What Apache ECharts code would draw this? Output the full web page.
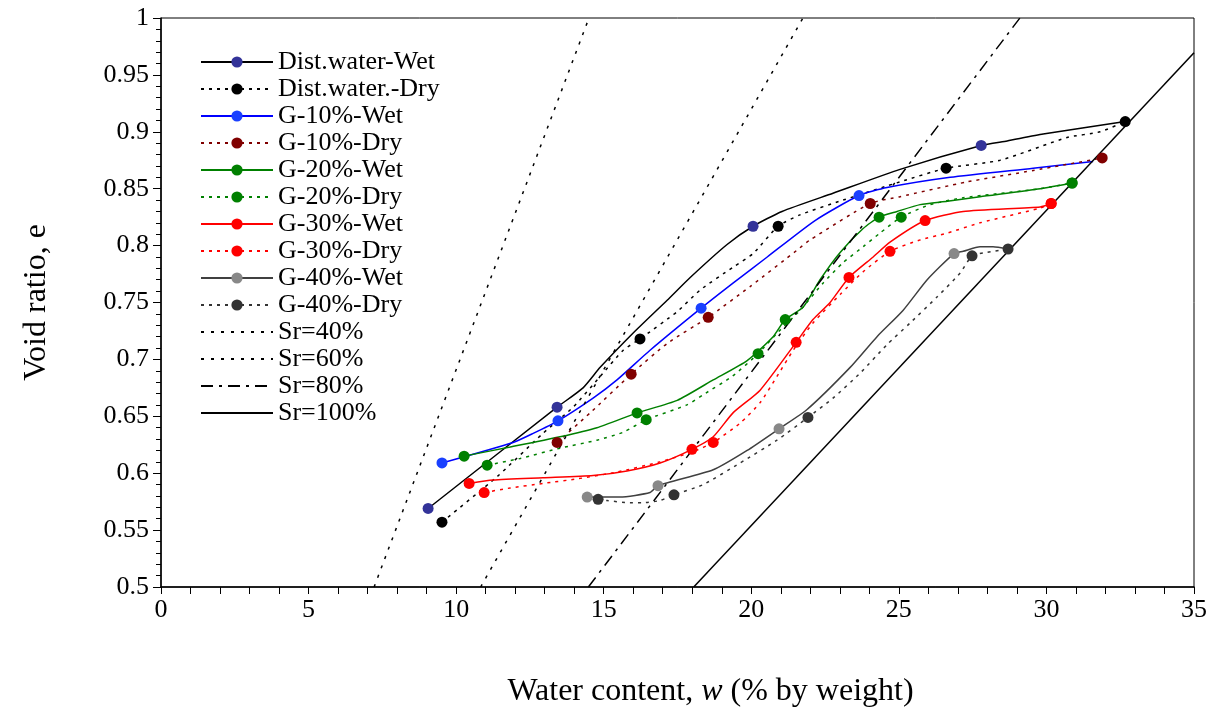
<!DOCTYPE html>
<html>
<head>
<meta charset="utf-8">
<script src="https://cdn.jsdelivr.net/npm/echarts@6/dist/echarts.min.js"></script>
<style>
html,body{margin:0;padding:0;background:#fff;}
#chart{width:1210px;height:721px;}
</style>
</head>
<body>
<div id="chart"></div>
<script>
// points are [w, e, marker?]
var distWet = [[9.05,0.569,1],[13.42,0.658,1],[14.30,0.675,0],[14.88,0.693,0],[15.99,0.723,0],[17.15,0.752,0],[17.93,0.772,0],[19.18,0.801,0],[20.06,0.817,1],[21.04,0.830,0],[22.77,0.846,0],[25.04,0.867,0],[27.79,0.888,1],[28.67,0.892,0],[29.89,0.898,0],[32.67,0.909,0]];
var distDry = [[9.52,0.557,1],[11.39,0.597,0],[12.94,0.635,0],[13.96,0.658,0],[14.88,0.685,0],[15.66,0.708,0],[16.23,0.718,1],[17.49,0.742,0],[18.27,0.761,0],[19.38,0.781,0],[20.06,0.793,0],[20.91,0.817,1],[21.65,0.827,0],[23.11,0.840,0],[25.04,0.856,0],[26.60,0.868,1],[28.43,0.875,0],[30.70,0.895,0],[31.82,0.900,0],[32.67,0.909,1]];
var g10Wet = [[9.52,0.609,1],[11.93,0.627,0],[12.61,0.635,0],[13.45,0.646,1],[14.64,0.666,0],[15.45,0.682,0],[16.57,0.708,0],[18.30,0.745,1],[19.38,0.767,0],[20.54,0.790,0],[22.16,0.822,0],[23.65,0.844,1],[24.60,0.851,0],[26.74,0.860,0],[29.55,0.868,0],[31.58,0.874,0]];
var g10Dry = [[13.42,0.627,1],[14.54,0.653,0],[15.93,0.687,1],[17.15,0.714,0],[18.54,0.737,1],[19.96,0.764,0],[21.55,0.796,0],[21.99,0.805,0],[24.03,0.837,1],[25.04,0.843,0],[27.31,0.856,0],[29.55,0.866,0],[31.89,0.877,1]];
var g20Wet = [[10.27,0.615,1],[11.83,0.623,0],[13.52,0.632,0],[14.77,0.640,0],[16.13,0.653,1],[17.49,0.664,0],[18.71,0.682,0],[19.86,0.699,0],[20.74,0.720,0],[21.15,0.735,1],[21.76,0.746,0],[22.33,0.770,0],[23.01,0.794,0],[23.79,0.815,0],[24.33,0.825,1],[24.94,0.830,0],[25.72,0.836,0],[26.64,0.839,0],[27.75,0.843,0],[29.79,0.850,0],[30.87,0.855,1]];
var g20Dry = [[11.05,0.607,1],[12.17,0.613,0],[13.52,0.622,0],[14.77,0.629,0],[15.66,0.636,0],[16.44,0.647,1],[17.82,0.660,0],[18.37,0.669,0],[19.35,0.685,0],[20.23,0.705,1],[20.87,0.723,0],[21.65,0.743,0],[22.43,0.767,0],[23.11,0.785,0],[23.79,0.799,0],[24.36,0.811,0],[25.08,0.825,1],[26.06,0.836,0],[27.18,0.842,0],[29.79,0.850,0],[30.87,0.855,1]];
var g30Wet = [[10.44,0.591,1],[11.25,0.594,0],[12.94,0.596,0],[14.64,0.598,0],[15.79,0.602,0],[16.91,0.609,0],[17.99,0.621,1],[18.71,0.632,0],[19.38,0.653,0],[20.30,0.673,0],[21.52,0.715,1],[22.09,0.735,0],[22.67,0.750,0],[23.31,0.772,1],[24.13,0.790,0],[24.70,0.803,0],[25.89,0.822,1],[27.18,0.830,0],[29.79,0.834,0],[30.16,0.837,1]];
var g30Dry = [[10.95,0.583,1],[11.83,0.587,0],[12.94,0.591,0],[14.10,0.595,0],[15.45,0.601,0],[16.91,0.610,0],[18.03,0.619,0],[18.71,0.627,1],[19.62,0.644,0],[20.30,0.662,0],[20.87,0.685,0],[21.42,0.708,0],[22.09,0.732,0],[23.01,0.757,0],[23.79,0.777,0],[24.70,0.795,1],[25.72,0.805,0],[26.64,0.811,0],[27.75,0.820,0],[29.79,0.833,0],[30.16,0.837,1]];
var g40Wet = [[14.44,0.579,1],[15.55,0.579,0],[16.57,0.583,0],[16.84,0.589,1],[18.71,0.603,0],[19.86,0.620,0],[20.94,0.639,1],[21.89,0.656,0],[23.35,0.693,0],[24.26,0.720,0],[25.14,0.743,0],[25.96,0.770,0],[26.87,0.793,1],[27.18,0.795,0],[27.75,0.799,0],[28.19,0.799,0],[28.70,0.797,0]];
var g40Dry = [[14.81,0.577,1],[15.11,0.576,0],[15.89,0.574,0],[16.30,0.574,0],[16.91,0.576,0],[17.38,0.581,1],[18.37,0.590,0],[19.62,0.609,0],[20.87,0.629,0],[21.92,0.649,1],[22.77,0.666,0],[23.69,0.688,0],[24.60,0.713,0],[25.38,0.732,0],[26.30,0.755,0],[27.08,0.776,0],[27.48,0.791,1],[27.99,0.794,0],[28.70,0.797,1]];
var sr40 = [[7.22,0.5,0],[14.5,1.0,0]];
var sr60 = [[10.83,0.5,0],[21.75,1.0,0]];
var sr80 = [[14.48,0.5,0],[29.1,1.0,0]];
var sr100 = [[18.05,0.5,0],[35,0.9695,0]];

var font = '"Times New Roman","Liberation Serif",serif';

function curve(name, pts, lineColor, markColor, dash, smooth){
	return {
		name:name,
		type:'line',
		data:pts,
		symbol:'circle',
		symbolSize:function(v){ return v[2] ? 11 : 0; },
		smooth:smooth,
		lineStyle:{color:lineColor, width:1.5, type:dash},
		itemStyle:{color:markColor},
		emphasis:{disabled:true}
	};
}
function refLine(name, pts, dash){
	return {
		name:name,
		type:'line',
		data:pts,
		symbol:'none',
		lineStyle:{color:'#000', width:1.5, type:dash},
		itemStyle:{color:'rgba(0,0,0,0)'},
		emphasis:{disabled:true}
	};
}

var dryDash = [3,5];
var series = [
	curve('Dist.water-Wet', distWet, '#000', '#333399', 'solid', 0.2),
	curve('Dist.water.-Dry', distDry, '#000', '#000', dryDash, 0.2),
	curve('G-10%-Wet', g10Wet, '#0000ff', '#1a40ff', 'solid', 0.2),
	curve('G-10%-Dry', g10Dry, '#800000', '#800000', dryDash, 0.2),
	curve('G-20%-Wet', g20Wet, '#008000', '#008000', 'solid', 0.2),
	curve('G-20%-Dry', g20Dry, '#008000', '#008000', dryDash, 0.2),
	curve('G-30%-Wet', g30Wet, '#ff0000', '#ff0000', 'solid', 0.2),
	curve('G-30%-Dry', g30Dry, '#ff0000', '#ff0000', dryDash, 0.2),
	curve('G-40%-Wet', g40Wet, '#404040', '#888888', 'solid', 0.2),
	curve('G-40%-Dry', g40Dry, '#333333', '#333333', dryDash, 0.2),
	refLine('Sr=40%', sr40, [3,7]),
	refLine('Sr=60%', sr60, [3,7]),
	refLine('Sr=80%', sr80, [12,6,3,6]),
	refLine('Sr=100%', sr100, 'solid')
];

var myChart = echarts.init(document.getElementById('chart'));
var option = {
	animation:false,
	backgroundColor:'#fff',
	grid:{left:161, right:16, top:18, bottom:134, show:true, borderColor:'#000', borderWidth:1},
	legend:{
		orient:'vertical',
		left:195,
		top:44,
		itemWidth:72,
		itemHeight:14,
		itemGap:1,
		itemTextGap:8,
		textStyle:{fontFamily:font, fontSize:26, color:'#000', lineHeight:26},
		data:series.map(function(s){ return s.name; })
	},
	xAxis:{
		type:'value',
		min:0, max:35, interval:5,
		name:'Water content, {i|w} (% by weight)',
		nameLocation:'middle',
		nameGap:89,
		nameTextStyle:{fontFamily:font, fontSize:32, color:'#000', padding:[0,0,0,66],
			rich:{i:{fontFamily:font, fontSize:32, fontStyle:'italic', color:'#000'}}},
		axisLine:{lineStyle:{color:'#000', width:1.5}},
		axisTick:{inside:false, length:7, lineStyle:{color:'#000'}},
		minorTick:{show:true, splitNumber:5, length:7, lineStyle:{color:'#000'}},
		splitLine:{show:false},
		axisLabel:{fontFamily:font, fontSize:26, color:'#000', margin:10}
	},
	yAxis:{
		type:'value',
		min:0.5, max:1, interval:0.05,
		name:'Void ratio, e',
		nameLocation:'middle',
		nameGap:108,
		nameTextStyle:{fontFamily:font, fontSize:32, color:'#000'},
		axisLine:{lineStyle:{color:'#000', width:1.5}},
		axisTick:{inside:false, length:8, lineStyle:{color:'#000'}},
		minorTick:{show:true, splitNumber:5, length:5, lineStyle:{color:'#000'}},
		splitLine:{show:false},
		axisLabel:{fontFamily:font, fontSize:26, color:'#000', margin:12,
			formatter:function(v){ return String(+v.toFixed(2)); }}
	},
	series:series
};
myChart.setOption(option);
</script>
</body>
</html>
